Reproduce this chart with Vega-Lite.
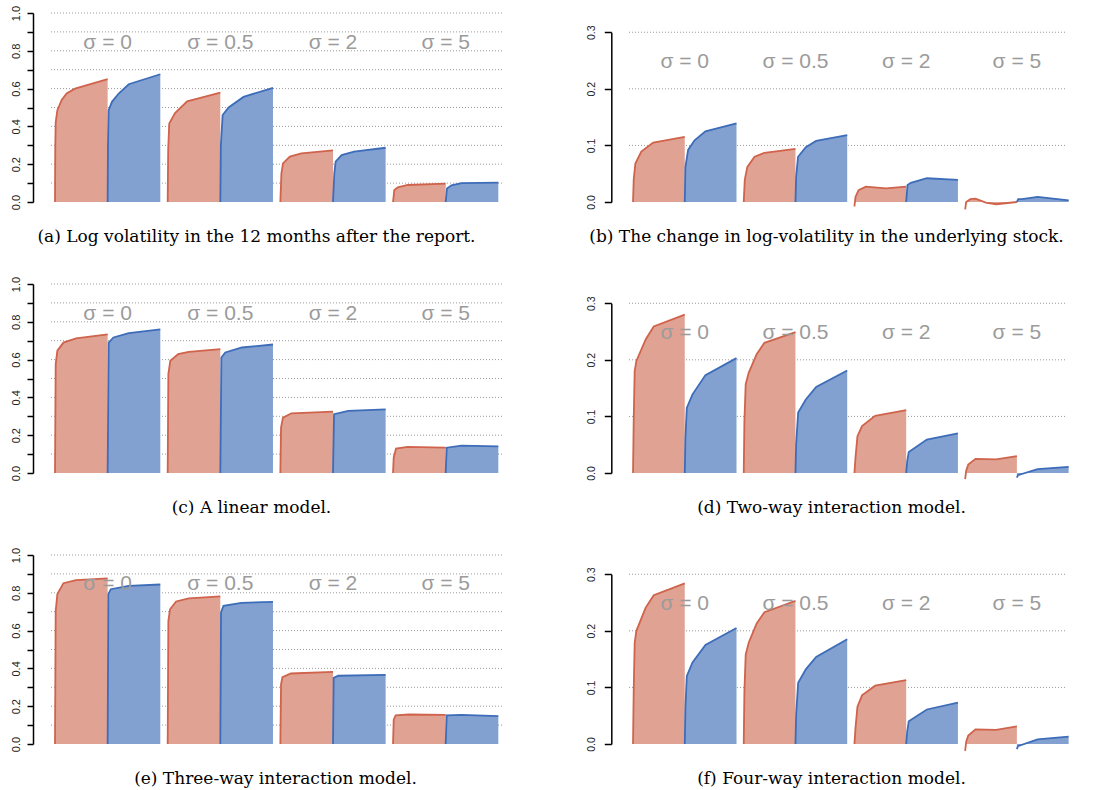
{
  "$schema": "https://vega.github.io/schema/vega-lite/v6.json",
  "background": "white",
  "padding": {"left": 10, "top": 5, "right": 5, "bottom": 5},
  "config": {
    "view": {"stroke": null},
    "font": "Liberation Sans",
    "axisY": {
      "labelAngle": -90, "labelAlign": "center", "labelBaseline": "bottom",
      "labelFont": "Liberation Sans", "labelColor": "#222"
    },
    "axisX": {
      "domain": false, "ticks": false, "labels": false, "grid": false,
      "titleFont": "DejaVu Serif", "titleFontSize": 17, "titleFontWeight": "normal",
      "titleColor": "#000", "titleY": 34, "titleBaseline": "middle", "titleAlign": "center"
    }
  },
  "datasets": {
    "gridL": [{"v":0.1},{"v":0.2},{"v":0.3},{"v":0.4},{"v":0.5},{"v":0.6},{"v":0.7},{"v":0.8},{"v":0.9},{"v":1.0}],
    "gridR": [{"v":0.1},{"v":0.2},{"v":0.3}],
    "curves": [
      {"p":"a","s":"0","c":"r","x":0,"y":0},{"p":"a","s":"0","c":"r","x":0.005,"y":0.29},{"p":"a","s":"0","c":"r","x":0.013,"y":0.42},{"p":"a","s":"0","c":"r","x":0.045,"y":0.486},{"p":"a","s":"0","c":"r","x":0.127,"y":0.54},{"p":"a","s":"0","c":"r","x":0.22,"y":0.574},{"p":"a","s":"0","c":"r","x":0.38,"y":0.6},{"p":"a","s":"0","c":"r","x":1,"y":0.65},
      {"p":"a","s":"0","c":"b","x":1,"y":0},{"p":"a","s":"0","c":"b","x":1.006,"y":0.3},{"p":"a","s":"0","c":"b","x":1.019,"y":0.486},{"p":"a","s":"0","c":"b","x":1.082,"y":0.53},{"p":"a","s":"0","c":"b","x":1.21,"y":0.574},{"p":"a","s":"0","c":"b","x":1.4,"y":0.623},{"p":"a","s":"0","c":"b","x":2,"y":0.676},
      {"p":"a","s":"0.5","c":"r","x":2.14,"y":0},{"p":"a","s":"0.5","c":"r","x":2.15,"y":0.28},{"p":"a","s":"0.5","c":"r","x":2.17,"y":0.415},{"p":"a","s":"0.5","c":"r","x":2.28,"y":0.47},{"p":"a","s":"0.5","c":"r","x":2.51,"y":0.533},{"p":"a","s":"0.5","c":"r","x":3.14,"y":0.579},
      {"p":"a","s":"0.5","c":"b","x":3.14,"y":0},{"p":"a","s":"0.5","c":"b","x":3.15,"y":0.3},{"p":"a","s":"0.5","c":"b","x":3.184,"y":0.46},{"p":"a","s":"0.5","c":"b","x":3.297,"y":0.5},{"p":"a","s":"0.5","c":"b","x":3.58,"y":0.556},{"p":"a","s":"0.5","c":"b","x":4.14,"y":0.604},
      {"p":"a","s":"2","c":"r","x":4.28,"y":0},{"p":"a","s":"2","c":"r","x":4.3,"y":0.15},{"p":"a","s":"2","c":"r","x":4.33,"y":0.204},{"p":"a","s":"2","c":"r","x":4.46,"y":0.24},{"p":"a","s":"2","c":"r","x":4.68,"y":0.257},{"p":"a","s":"2","c":"r","x":5.28,"y":0.273},
      {"p":"a","s":"2","c":"b","x":5.28,"y":0},{"p":"a","s":"2","c":"b","x":5.305,"y":0.15},{"p":"a","s":"2","c":"b","x":5.33,"y":0.213},{"p":"a","s":"2","c":"b","x":5.444,"y":0.248},{"p":"a","s":"2","c":"b","x":5.68,"y":0.266},{"p":"a","s":"2","c":"b","x":6.28,"y":0.287},
      {"p":"a","s":"5","c":"r","x":6.42,"y":0},{"p":"a","s":"5","c":"r","x":6.445,"y":0.063},{"p":"a","s":"5","c":"r","x":6.51,"y":0.077},{"p":"a","s":"5","c":"r","x":6.7,"y":0.09},{"p":"a","s":"5","c":"r","x":7.42,"y":0.097},
      {"p":"a","s":"5","c":"b","x":7.42,"y":0},{"p":"a","s":"5","c":"b","x":7.445,"y":0.072},{"p":"a","s":"5","c":"b","x":7.53,"y":0.088},{"p":"a","s":"5","c":"b","x":7.72,"y":0.1},{"p":"a","s":"5","c":"b","x":8.42,"y":0.102},

      {"p":"b","s":"0","c":"r","x":0,"y":0},{"p":"b","s":"0","c":"r","x":0.013,"y":0.039},{"p":"b","s":"0","c":"r","x":0.045,"y":0.068},{"p":"b","s":"0","c":"r","x":0.16,"y":0.089},{"p":"b","s":"0","c":"r","x":0.39,"y":0.105},{"p":"b","s":"0","c":"r","x":1,"y":0.115},
      {"p":"b","s":"0","c":"b","x":1,"y":0},{"p":"b","s":"0","c":"b","x":1.013,"y":0.062},{"p":"b","s":"0","c":"b","x":1.065,"y":0.092},{"p":"b","s":"0","c":"b","x":1.19,"y":0.109},{"p":"b","s":"0","c":"b","x":1.4,"y":0.125},{"p":"b","s":"0","c":"b","x":2,"y":0.139},
      {"p":"b","s":"0.5","c":"r","x":2.14,"y":0},{"p":"b","s":"0.5","c":"r","x":2.16,"y":0.039},{"p":"b","s":"0.5","c":"r","x":2.21,"y":0.062},{"p":"b","s":"0.5","c":"r","x":2.35,"y":0.08},{"p":"b","s":"0.5","c":"r","x":2.54,"y":0.087},{"p":"b","s":"0.5","c":"r","x":3.14,"y":0.094},
      {"p":"b","s":"0.5","c":"b","x":3.14,"y":0},{"p":"b","s":"0.5","c":"b","x":3.153,"y":0.045},{"p":"b","s":"0.5","c":"b","x":3.19,"y":0.08},{"p":"b","s":"0.5","c":"b","x":3.34,"y":0.097},{"p":"b","s":"0.5","c":"b","x":3.54,"y":0.108},{"p":"b","s":"0.5","c":"b","x":4.14,"y":0.118},
      {"p":"b","s":"2","c":"r","x":4.28,"y":-0.008},{"p":"b","s":"2","c":"r","x":4.3,"y":0.009},{"p":"b","s":"2","c":"r","x":4.36,"y":0.021},{"p":"b","s":"2","c":"r","x":4.5,"y":0.027},{"p":"b","s":"2","c":"r","x":4.89,"y":0.024},{"p":"b","s":"2","c":"r","x":5.28,"y":0.027},
      {"p":"b","s":"2","c":"b","x":5.28,"y":0},{"p":"b","s":"2","c":"b","x":5.306,"y":0.03},{"p":"b","s":"2","c":"b","x":5.37,"y":0.034},{"p":"b","s":"2","c":"b","x":5.68,"y":0.042},{"p":"b","s":"2","c":"b","x":6.28,"y":0.039},
      {"p":"b","s":"5","c":"r","x":6.42,"y":-0.013},{"p":"b","s":"5","c":"r","x":6.44,"y":0},{"p":"b","s":"5","c":"r","x":6.52,"y":0.005},{"p":"b","s":"5","c":"r","x":6.62,"y":0.006},{"p":"b","s":"5","c":"r","x":6.82,"y":-0.001},{"p":"b","s":"5","c":"r","x":7.02,"y":-0.004},{"p":"b","s":"5","c":"r","x":7.42,"y":0},
      {"p":"b","s":"5","c":"b","x":7.42,"y":0},{"p":"b","s":"5","c":"b","x":7.446,"y":0.005},{"p":"b","s":"5","c":"b","x":7.52,"y":0.005},{"p":"b","s":"5","c":"b","x":7.82,"y":0.009},{"p":"b","s":"5","c":"b","x":8.42,"y":0.003},

      {"p":"c","s":"0","c":"r","x":0,"y":0},{"p":"c","s":"0","c":"r","x":0.013,"y":0.576},{"p":"c","s":"0","c":"r","x":0.045,"y":0.647},{"p":"c","s":"0","c":"r","x":0.16,"y":0.69},{"p":"c","s":"0","c":"r","x":0.4,"y":0.712},{"p":"c","s":"0","c":"r","x":1,"y":0.733},
      {"p":"c","s":"0","c":"b","x":1,"y":0},{"p":"c","s":"0","c":"b","x":1.02,"y":0.69},{"p":"c","s":"0","c":"b","x":1.11,"y":0.717},{"p":"c","s":"0","c":"b","x":1.4,"y":0.74},{"p":"c","s":"0","c":"b","x":2,"y":0.76},
      {"p":"c","s":"0.5","c":"r","x":2.14,"y":0},{"p":"c","s":"0.5","c":"r","x":2.153,"y":0.523},{"p":"c","s":"0.5","c":"r","x":2.19,"y":0.594},{"p":"c","s":"0.5","c":"r","x":2.34,"y":0.629},{"p":"c","s":"0.5","c":"r","x":2.54,"y":0.641},{"p":"c","s":"0.5","c":"r","x":3.14,"y":0.655},
      {"p":"c","s":"0.5","c":"b","x":3.14,"y":0},{"p":"c","s":"0.5","c":"b","x":3.16,"y":0.611},{"p":"c","s":"0.5","c":"b","x":3.234,"y":0.638},{"p":"c","s":"0.5","c":"b","x":3.55,"y":0.664},{"p":"c","s":"0.5","c":"b","x":4.14,"y":0.68},
      {"p":"c","s":"2","c":"r","x":4.28,"y":0},{"p":"c","s":"2","c":"r","x":4.293,"y":0.24},{"p":"c","s":"2","c":"r","x":4.33,"y":0.293},{"p":"c","s":"2","c":"r","x":4.49,"y":0.316},{"p":"c","s":"2","c":"r","x":5.28,"y":0.325},
      {"p":"c","s":"2","c":"b","x":5.28,"y":0},{"p":"c","s":"2","c":"b","x":5.3,"y":0.311},{"p":"c","s":"2","c":"b","x":5.57,"y":0.329},{"p":"c","s":"2","c":"b","x":6.28,"y":0.337},
      {"p":"c","s":"5","c":"r","x":6.42,"y":0},{"p":"c","s":"5","c":"r","x":6.433,"y":0.081},{"p":"c","s":"5","c":"r","x":6.477,"y":0.129},{"p":"c","s":"5","c":"r","x":6.7,"y":0.138},{"p":"c","s":"5","c":"r","x":7.42,"y":0.134},
      {"p":"c","s":"5","c":"b","x":7.42,"y":0},{"p":"c","s":"5","c":"b","x":7.44,"y":0.134},{"p":"c","s":"5","c":"b","x":7.72,"y":0.145},{"p":"c","s":"5","c":"b","x":8.42,"y":0.141},

      {"p":"d","s":"0","c":"r","x":0,"y":0},{"p":"d","s":"0","c":"r","x":0.013,"y":0.092},{"p":"d","s":"0","c":"r","x":0.032,"y":0.18},{"p":"d","s":"0","c":"r","x":0.065,"y":0.198},{"p":"d","s":"0","c":"r","x":0.245,"y":0.236},{"p":"d","s":"0","c":"r","x":0.4,"y":0.259},{"p":"d","s":"0","c":"r","x":1,"y":0.28},
      {"p":"d","s":"0","c":"b","x":1,"y":0},{"p":"d","s":"0","c":"b","x":1.013,"y":0.062},{"p":"d","s":"0","c":"b","x":1.039,"y":0.115},{"p":"d","s":"0","c":"b","x":1.15,"y":0.139},{"p":"d","s":"0","c":"b","x":1.4,"y":0.173},{"p":"d","s":"0","c":"b","x":2,"y":0.203},
      {"p":"d","s":"0.5","c":"r","x":2.14,"y":0},{"p":"d","s":"0.5","c":"r","x":2.153,"y":0.092},{"p":"d","s":"0.5","c":"r","x":2.178,"y":0.157},{"p":"d","s":"0.5","c":"r","x":2.236,"y":0.177},{"p":"d","s":"0.5","c":"r","x":2.39,"y":0.21},{"p":"d","s":"0.5","c":"r","x":2.54,"y":0.23},{"p":"d","s":"0.5","c":"r","x":3.14,"y":0.249},
      {"p":"d","s":"0.5","c":"b","x":3.14,"y":0},{"p":"d","s":"0.5","c":"b","x":3.153,"y":0.051},{"p":"d","s":"0.5","c":"b","x":3.192,"y":0.107},{"p":"d","s":"0.5","c":"b","x":3.34,"y":0.13},{"p":"d","s":"0.5","c":"b","x":3.54,"y":0.152},{"p":"d","s":"0.5","c":"b","x":4.14,"y":0.181},
      {"p":"d","s":"2","c":"r","x":4.28,"y":0},{"p":"d","s":"2","c":"r","x":4.3,"y":0.027},{"p":"d","s":"2","c":"r","x":4.338,"y":0.065},{"p":"d","s":"2","c":"r","x":4.427,"y":0.083},{"p":"d","s":"2","c":"r","x":4.68,"y":0.101},{"p":"d","s":"2","c":"r","x":5.28,"y":0.111},
      {"p":"d","s":"2","c":"b","x":5.28,"y":0},{"p":"d","s":"2","c":"b","x":5.3,"y":0.021},{"p":"d","s":"2","c":"b","x":5.33,"y":0.037},{"p":"d","s":"2","c":"b","x":5.68,"y":0.059},{"p":"d","s":"2","c":"b","x":6.28,"y":0.07},
      {"p":"d","s":"5","c":"r","x":6.42,"y":-0.011},{"p":"d","s":"5","c":"r","x":6.44,"y":0.004},{"p":"d","s":"5","c":"r","x":6.48,"y":0.015},{"p":"d","s":"5","c":"r","x":6.62,"y":0.025},{"p":"d","s":"5","c":"r","x":7.02,"y":0.024},{"p":"d","s":"5","c":"r","x":7.42,"y":0.03},
      {"p":"d","s":"5","c":"b","x":7.42,"y":-0.008},{"p":"d","s":"5","c":"b","x":7.44,"y":-0.004},{"p":"d","s":"5","c":"b","x":7.82,"y":0.007},{"p":"d","s":"5","c":"b","x":8.42,"y":0.011},

      {"p":"e","s":"0","c":"r","x":0,"y":0},{"p":"e","s":"0","c":"r","x":0.013,"y":0.704},{"p":"e","s":"0","c":"r","x":0.045,"y":0.793},{"p":"e","s":"0","c":"r","x":0.16,"y":0.851},{"p":"e","s":"0","c":"r","x":0.4,"y":0.867},{"p":"e","s":"0","c":"r","x":1,"y":0.876},
      {"p":"e","s":"0","c":"b","x":1,"y":0},{"p":"e","s":"0","c":"b","x":1.013,"y":0.793},{"p":"e","s":"0","c":"b","x":1.06,"y":0.819},{"p":"e","s":"0","c":"b","x":1.4,"y":0.837},{"p":"e","s":"0","c":"b","x":2,"y":0.844},
      {"p":"e","s":"0.5","c":"r","x":2.14,"y":0},{"p":"e","s":"0.5","c":"r","x":2.153,"y":0.651},{"p":"e","s":"0.5","c":"r","x":2.185,"y":0.713},{"p":"e","s":"0.5","c":"r","x":2.3,"y":0.754},{"p":"e","s":"0.5","c":"r","x":2.54,"y":0.77},{"p":"e","s":"0.5","c":"r","x":3.14,"y":0.781},
      {"p":"e","s":"0.5","c":"b","x":3.14,"y":0},{"p":"e","s":"0.5","c":"b","x":3.153,"y":0.696},{"p":"e","s":"0.5","c":"b","x":3.2,"y":0.731},{"p":"e","s":"0.5","c":"b","x":3.54,"y":0.747},{"p":"e","s":"0.5","c":"b","x":4.14,"y":0.752},
      {"p":"e","s":"2","c":"r","x":4.28,"y":0},{"p":"e","s":"2","c":"r","x":4.293,"y":0.315},{"p":"e","s":"2","c":"r","x":4.32,"y":0.354},{"p":"e","s":"2","c":"r","x":4.48,"y":0.373},{"p":"e","s":"2","c":"r","x":5.28,"y":0.382},
      {"p":"e","s":"2","c":"b","x":5.28,"y":0},{"p":"e","s":"2","c":"b","x":5.293,"y":0.35},{"p":"e","s":"2","c":"b","x":5.38,"y":0.361},{"p":"e","s":"2","c":"b","x":6.28,"y":0.366},
      {"p":"e","s":"5","c":"r","x":6.42,"y":0},{"p":"e","s":"5","c":"r","x":6.433,"y":0.129},{"p":"e","s":"5","c":"r","x":6.47,"y":0.152},{"p":"e","s":"5","c":"r","x":6.72,"y":0.156},{"p":"e","s":"5","c":"r","x":7.42,"y":0.154},
      {"p":"e","s":"5","c":"b","x":7.42,"y":0},{"p":"e","s":"5","c":"b","x":7.44,"y":0.152},{"p":"e","s":"5","c":"b","x":7.72,"y":0.154},{"p":"e","s":"5","c":"b","x":8.42,"y":0.147},

      {"p":"f","s":"0","c":"r","x":0,"y":0},{"p":"f","s":"0","c":"r","x":0.013,"y":0.093},{"p":"f","s":"0","c":"r","x":0.032,"y":0.179},{"p":"f","s":"0","c":"r","x":0.065,"y":0.2},{"p":"f","s":"0","c":"r","x":0.245,"y":0.241},{"p":"f","s":"0","c":"r","x":0.4,"y":0.263},{"p":"f","s":"0","c":"r","x":1,"y":0.284},
      {"p":"f","s":"0","c":"b","x":1,"y":0},{"p":"f","s":"0","c":"b","x":1.013,"y":0.064},{"p":"f","s":"0","c":"b","x":1.039,"y":0.12},{"p":"f","s":"0","c":"b","x":1.15,"y":0.144},{"p":"f","s":"0","c":"b","x":1.4,"y":0.175},{"p":"f","s":"0","c":"b","x":2,"y":0.205},
      {"p":"f","s":"0.5","c":"r","x":2.14,"y":0},{"p":"f","s":"0.5","c":"r","x":2.153,"y":0.093},{"p":"f","s":"0.5","c":"r","x":2.178,"y":0.158},{"p":"f","s":"0.5","c":"r","x":2.236,"y":0.179},{"p":"f","s":"0.5","c":"r","x":2.39,"y":0.213},{"p":"f","s":"0.5","c":"r","x":2.54,"y":0.233},{"p":"f","s":"0.5","c":"r","x":3.14,"y":0.253},
      {"p":"f","s":"0.5","c":"b","x":3.14,"y":0},{"p":"f","s":"0.5","c":"b","x":3.153,"y":0.052},{"p":"f","s":"0.5","c":"b","x":3.192,"y":0.108},{"p":"f","s":"0.5","c":"b","x":3.34,"y":0.132},{"p":"f","s":"0.5","c":"b","x":3.54,"y":0.154},{"p":"f","s":"0.5","c":"b","x":4.14,"y":0.185},
      {"p":"f","s":"2","c":"r","x":4.28,"y":0},{"p":"f","s":"2","c":"r","x":4.3,"y":0.028},{"p":"f","s":"2","c":"r","x":4.338,"y":0.066},{"p":"f","s":"2","c":"r","x":4.427,"y":0.086},{"p":"f","s":"2","c":"r","x":4.68,"y":0.103},{"p":"f","s":"2","c":"r","x":5.28,"y":0.113},
      {"p":"f","s":"2","c":"b","x":5.28,"y":0},{"p":"f","s":"2","c":"b","x":5.3,"y":0.022},{"p":"f","s":"2","c":"b","x":5.33,"y":0.04},{"p":"f","s":"2","c":"b","x":5.68,"y":0.061},{"p":"f","s":"2","c":"b","x":6.28,"y":0.073},
      {"p":"f","s":"5","c":"r","x":6.42,"y":-0.012},{"p":"f","s":"5","c":"r","x":6.44,"y":0.004},{"p":"f","s":"5","c":"r","x":6.48,"y":0.015},{"p":"f","s":"5","c":"r","x":6.62,"y":0.026},{"p":"f","s":"5","c":"r","x":7.02,"y":0.025},{"p":"f","s":"5","c":"r","x":7.42,"y":0.031},
      {"p":"f","s":"5","c":"b","x":7.42,"y":-0.009},{"p":"f","s":"5","c":"b","x":7.44,"y":-0.004},{"p":"f","s":"5","c":"b","x":7.82,"y":0.008},{"p":"f","s":"5","c":"b","x":8.42,"y":0.013}
    ],
    "labels": [
      {"p":"a","x":1,"y":0.84,"label":"σ = 0"},{"p":"a","x":3.14,"y":0.84,"label":"σ = 0.5"},{"p":"a","x":5.28,"y":0.84,"label":"σ = 2"},{"p":"a","x":7.42,"y":0.84,"label":"σ = 5"},
      {"p":"b","x":1,"y":0.247,"label":"σ = 0"},{"p":"b","x":3.14,"y":0.247,"label":"σ = 0.5"},{"p":"b","x":5.28,"y":0.247,"label":"σ = 2"},{"p":"b","x":7.42,"y":0.247,"label":"σ = 5"},
      {"p":"c","x":1,"y":0.84,"label":"σ = 0"},{"p":"c","x":3.14,"y":0.84,"label":"σ = 0.5"},{"p":"c","x":5.28,"y":0.84,"label":"σ = 2"},{"p":"c","x":7.42,"y":0.84,"label":"σ = 5"},
      {"p":"d","x":1,"y":0.247,"label":"σ = 0"},{"p":"d","x":3.14,"y":0.247,"label":"σ = 0.5"},{"p":"d","x":5.28,"y":0.247,"label":"σ = 2"},{"p":"d","x":7.42,"y":0.247,"label":"σ = 5"},
      {"p":"e","x":1,"y":0.845,"label":"σ = 0"},{"p":"e","x":3.14,"y":0.845,"label":"σ = 0.5"},{"p":"e","x":5.28,"y":0.845,"label":"σ = 2"},{"p":"e","x":7.42,"y":0.845,"label":"σ = 5"},
      {"p":"f","x":1,"y":0.247,"label":"σ = 0"},{"p":"f","x":3.14,"y":0.247,"label":"σ = 0.5"},{"p":"f","x":5.28,"y":0.247,"label":"σ = 2"},{"p":"f","x":7.42,"y":0.247,"label":"σ = 5"}
    ]
  },
  "columns": 2,
  "bounds": "flush",
  "spacing": {"row": 82, "column": 126},
  "concat": [
    {
      "width": 452, "height": 189,
      "encoding": {
        "y": {"field": "y", "type": "quantitative", "scale": {"domain": [0, 1], "nice": false},
              "axis": {"title": null, "offset": 17, "tickSize": 6, "labelPadding": 6, "labelFontSize": 11, "zindex": 1,
                       "grid": false, "domain": true, "ticks": true, "domainColor": "#000000", "tickColor": "#000000", "domainWidth": 1.5, "tickWidth": 1.5, "domainOpacity": 1, "tickOpacity": 1,
                       "values": [0, 0.1, 0.2, 0.3, 0.4, 0.5, 0.6, 0.7, 0.8, 0.9, 1.0],
                       "labelExpr": "round(datum.value*10)%2==0 ? format(datum.value, '.1f') : ''"}}
      },
      "layer": [
        {"data": {"name": "gridL"}, "mark": {"type": "rule", "strokeDash": [1, 2], "color": "#999999", "strokeWidth": 1}, "encoding": {"y": {"field": "v", "type": "quantitative"}}},
        {"data": {"name": "curves"}, "transform": [{"filter": "datum.p == 'a'"}], "mark": {"type": "area"},
         "encoding": {"x": {"field": "x", "type": "quantitative", "scale": {"domain": [-0.095, 8.49], "nice": false, "zero": false}, "axis": {"title": "(a) Log volatility in the 12 months after the report.", "titleX": 206}},
                      "y": {"field": "y", "type": "quantitative", "stack": null}, "fill": {"field": "c", "type": "nominal", "scale": {"domain": ["r", "b"], "range": ["#e0a293", "#82a1d0"]}, "legend": null}, "detail": {"field": "s"}}},
        {"data": {"name": "curves"}, "transform": [{"filter": "datum.p == 'a'"}], "mark": {"type": "line", "strokeWidth": 1.8},
         "encoding": {"x": {"field": "x", "type": "quantitative", "scale": {"domain": [-0.095, 8.49], "nice": false, "zero": false}},
                      "stroke": {"field": "c", "type": "nominal", "scale": {"domain": ["r", "b"], "range": ["#cf634b", "#3d6cb8"]}, "legend": null}, "detail": {"field": "s"}}},
        {"data": {"name": "labels"}, "transform": [{"filter": "datum.p == 'a'"}], "mark": {"type": "text", "font": "Liberation Sans", "fontSize": 21, "color": "#9b9b9b", "baseline": "middle"},
         "encoding": {"x": {"field": "x", "type": "quantitative", "scale": {"domain": [-0.095, 8.49], "nice": false, "zero": false}}, "text": {"field": "label"}}}
      ]
    },
    {
      "width": 437, "height": 189,
      "encoding": {
        "y": {"field": "y", "type": "quantitative", "scale": {"domain": [0, 0.334], "nice": false},
              "axis": {"title": null, "offset": 16.7, "tickSize": 7, "labelPadding": 8, "labelFontSize": 10.5, "zindex": 1,
                       "grid": false, "domain": true, "ticks": true, "domainColor": "#000000", "tickColor": "#000000", "domainWidth": 1.5, "tickWidth": 1.5, "domainOpacity": 1, "tickOpacity": 1, "domainDash": [169.8, 1000],
                       "values": [0, 0.1, 0.2, 0.3], "format": ".1f"}}
      },
      "layer": [
        {"data": {"name": "gridR"}, "mark": {"type": "rule", "strokeDash": [1, 2], "color": "#999999", "strokeWidth": 1}, "encoding": {"y": {"field": "v", "type": "quantitative"}}},
        {"data": {"name": "curves"}, "transform": [{"filter": "datum.p == 'b'"}], "mark": {"type": "area"},
         "encoding": {"x": {"field": "x", "type": "quantitative", "scale": {"domain": [-0.097, 8.35], "nice": false, "zero": false}, "axis": {"title": "(b) The change in log-volatility in the underlying stock.", "titleX": 198}},
                      "y": {"field": "y", "type": "quantitative", "stack": null}, "fill": {"field": "c", "type": "nominal", "scale": {"domain": ["r", "b"], "range": ["#e0a293", "#82a1d0"]}, "legend": null}, "detail": {"field": "s"}}},
        {"data": {"name": "curves"}, "transform": [{"filter": "datum.p == 'b'"}], "mark": {"type": "line", "strokeWidth": 1.8},
         "encoding": {"x": {"field": "x", "type": "quantitative", "scale": {"domain": [-0.097, 8.35], "nice": false, "zero": false}},
                      "stroke": {"field": "c", "type": "nominal", "scale": {"domain": ["r", "b"], "range": ["#cf634b", "#3d6cb8"]}, "legend": null}, "detail": {"field": "s"}}},
        {"data": {"name": "labels"}, "transform": [{"filter": "datum.p == 'b'"}], "mark": {"type": "text", "font": "Liberation Sans", "fontSize": 21, "color": "#9b9b9b", "baseline": "middle"},
         "encoding": {"x": {"field": "x", "type": "quantitative", "scale": {"domain": [-0.097, 8.35], "nice": false, "zero": false}}, "text": {"field": "label"}}}
      ]
    },
    {
      "width": 452, "height": 189,
      "encoding": {
        "y": {"field": "y", "type": "quantitative", "scale": {"domain": [0, 1], "nice": false},
              "axis": {"title": null, "offset": 17, "tickSize": 6, "labelPadding": 6, "labelFontSize": 11, "zindex": 1,
                       "grid": false, "domain": true, "ticks": true, "domainColor": "#000000", "tickColor": "#000000", "domainWidth": 1.5, "tickWidth": 1.5, "domainOpacity": 1, "tickOpacity": 1,
                       "values": [0, 0.1, 0.2, 0.3, 0.4, 0.5, 0.6, 0.7, 0.8, 0.9, 1.0],
                       "labelExpr": "round(datum.value*10)%2==0 ? format(datum.value, '.1f') : ''"}}
      },
      "layer": [
        {"data": {"name": "gridL"}, "mark": {"type": "rule", "strokeDash": [1, 2], "color": "#999999", "strokeWidth": 1}, "encoding": {"y": {"field": "v", "type": "quantitative"}}},
        {"data": {"name": "curves"}, "transform": [{"filter": "datum.p == 'c'"}], "mark": {"type": "area"},
         "encoding": {"x": {"field": "x", "type": "quantitative", "scale": {"domain": [-0.095, 8.49], "nice": false, "zero": false}, "axis": {"title": "(c) A linear model.", "titleX": 201}},
                      "y": {"field": "y", "type": "quantitative", "stack": null}, "fill": {"field": "c", "type": "nominal", "scale": {"domain": ["r", "b"], "range": ["#e0a293", "#82a1d0"]}, "legend": null}, "detail": {"field": "s"}}},
        {"data": {"name": "curves"}, "transform": [{"filter": "datum.p == 'c'"}], "mark": {"type": "line", "strokeWidth": 1.8},
         "encoding": {"x": {"field": "x", "type": "quantitative", "scale": {"domain": [-0.095, 8.49], "nice": false, "zero": false}},
                      "stroke": {"field": "c", "type": "nominal", "scale": {"domain": ["r", "b"], "range": ["#cf634b", "#3d6cb8"]}, "legend": null}, "detail": {"field": "s"}}},
        {"data": {"name": "labels"}, "transform": [{"filter": "datum.p == 'c'"}], "mark": {"type": "text", "font": "Liberation Sans", "fontSize": 21, "color": "#9b9b9b", "baseline": "middle"},
         "encoding": {"x": {"field": "x", "type": "quantitative", "scale": {"domain": [-0.095, 8.49], "nice": false, "zero": false}}, "text": {"field": "label"}}}
      ]
    },
    {
      "width": 437, "height": 189,
      "encoding": {
        "y": {"field": "y", "type": "quantitative", "scale": {"domain": [0, 0.334], "nice": false},
              "axis": {"title": null, "offset": 16.7, "tickSize": 7, "labelPadding": 8, "labelFontSize": 10.5, "zindex": 1,
                       "grid": false, "domain": true, "ticks": true, "domainColor": "#000000", "tickColor": "#000000", "domainWidth": 1.5, "tickWidth": 1.5, "domainOpacity": 1, "tickOpacity": 1, "domainDash": [169.8, 1000],
                       "values": [0, 0.1, 0.2, 0.3], "format": ".1f"}}
      },
      "layer": [
        {"data": {"name": "gridR"}, "mark": {"type": "rule", "strokeDash": [1, 2], "color": "#999999", "strokeWidth": 1}, "encoding": {"y": {"field": "v", "type": "quantitative"}}},
        {"data": {"name": "curves"}, "transform": [{"filter": "datum.p == 'd'"}], "mark": {"type": "area"},
         "encoding": {"x": {"field": "x", "type": "quantitative", "scale": {"domain": [-0.097, 8.35], "nice": false, "zero": false}, "axis": {"title": "(d) Two-way interaction model.", "titleX": 203}},
                      "y": {"field": "y", "type": "quantitative", "stack": null}, "fill": {"field": "c", "type": "nominal", "scale": {"domain": ["r", "b"], "range": ["#e0a293", "#82a1d0"]}, "legend": null}, "detail": {"field": "s"}}},
        {"data": {"name": "curves"}, "transform": [{"filter": "datum.p == 'd'"}], "mark": {"type": "line", "strokeWidth": 1.8},
         "encoding": {"x": {"field": "x", "type": "quantitative", "scale": {"domain": [-0.097, 8.35], "nice": false, "zero": false}},
                      "stroke": {"field": "c", "type": "nominal", "scale": {"domain": ["r", "b"], "range": ["#cf634b", "#3d6cb8"]}, "legend": null}, "detail": {"field": "s"}}},
        {"data": {"name": "labels"}, "transform": [{"filter": "datum.p == 'd'"}], "mark": {"type": "text", "font": "Liberation Sans", "fontSize": 21, "color": "#9b9b9b", "baseline": "middle"},
         "encoding": {"x": {"field": "x", "type": "quantitative", "scale": {"domain": [-0.097, 8.35], "nice": false, "zero": false}}, "text": {"field": "label"}}}
      ]
    },
    {
      "width": 452, "height": 189,
      "encoding": {
        "y": {"field": "y", "type": "quantitative", "scale": {"domain": [0, 1], "nice": false},
              "axis": {"title": null, "offset": 17, "tickSize": 6, "labelPadding": 6, "labelFontSize": 11, "zindex": 1,
                       "grid": false, "domain": true, "ticks": true, "domainColor": "#000000", "tickColor": "#000000", "domainWidth": 1.5, "tickWidth": 1.5, "domainOpacity": 1, "tickOpacity": 1,
                       "values": [0, 0.1, 0.2, 0.3, 0.4, 0.5, 0.6, 0.7, 0.8, 0.9, 1.0],
                       "labelExpr": "round(datum.value*10)%2==0 ? format(datum.value, '.1f') : ''"}}
      },
      "layer": [
        {"data": {"name": "gridL"}, "mark": {"type": "rule", "strokeDash": [1, 2], "color": "#999999", "strokeWidth": 1}, "encoding": {"y": {"field": "v", "type": "quantitative"}}},
        {"data": {"name": "curves"}, "transform": [{"filter": "datum.p == 'e'"}], "mark": {"type": "area"},
         "encoding": {"x": {"field": "x", "type": "quantitative", "scale": {"domain": [-0.095, 8.49], "nice": false, "zero": false}, "axis": {"title": "(e) Three-way interaction model.", "titleX": 225}},
                      "y": {"field": "y", "type": "quantitative", "stack": null}, "fill": {"field": "c", "type": "nominal", "scale": {"domain": ["r", "b"], "range": ["#e0a293", "#82a1d0"]}, "legend": null}, "detail": {"field": "s"}}},
        {"data": {"name": "curves"}, "transform": [{"filter": "datum.p == 'e'"}], "mark": {"type": "line", "strokeWidth": 1.8},
         "encoding": {"x": {"field": "x", "type": "quantitative", "scale": {"domain": [-0.095, 8.49], "nice": false, "zero": false}},
                      "stroke": {"field": "c", "type": "nominal", "scale": {"domain": ["r", "b"], "range": ["#cf634b", "#3d6cb8"]}, "legend": null}, "detail": {"field": "s"}}},
        {"data": {"name": "labels"}, "transform": [{"filter": "datum.p == 'e'"}], "mark": {"type": "text", "font": "Liberation Sans", "fontSize": 21, "color": "#9b9b9b", "baseline": "middle"},
         "encoding": {"x": {"field": "x", "type": "quantitative", "scale": {"domain": [-0.095, 8.49], "nice": false, "zero": false}}, "text": {"field": "label"}}}
      ]
    },
    {
      "width": 437, "height": 189,
      "encoding": {
        "y": {"field": "y", "type": "quantitative", "scale": {"domain": [0, 0.334], "nice": false},
              "axis": {"title": null, "offset": 16.7, "tickSize": 7, "labelPadding": 8, "labelFontSize": 10.5, "zindex": 1,
                       "grid": false, "domain": true, "ticks": true, "domainColor": "#000000", "tickColor": "#000000", "domainWidth": 1.5, "tickWidth": 1.5, "domainOpacity": 1, "tickOpacity": 1, "domainDash": [169.8, 1000],
                       "values": [0, 0.1, 0.2, 0.3], "format": ".1f"}}
      },
      "layer": [
        {"data": {"name": "gridR"}, "mark": {"type": "rule", "strokeDash": [1, 2], "color": "#999999", "strokeWidth": 1}, "encoding": {"y": {"field": "v", "type": "quantitative"}}},
        {"data": {"name": "curves"}, "transform": [{"filter": "datum.p == 'f'"}], "mark": {"type": "area"},
         "encoding": {"x": {"field": "x", "type": "quantitative", "scale": {"domain": [-0.097, 8.35], "nice": false, "zero": false}, "axis": {"title": "(f) Four-way interaction model.", "titleX": 203}},
                      "y": {"field": "y", "type": "quantitative", "stack": null}, "fill": {"field": "c", "type": "nominal", "scale": {"domain": ["r", "b"], "range": ["#e0a293", "#82a1d0"]}, "legend": null}, "detail": {"field": "s"}}},
        {"data": {"name": "curves"}, "transform": [{"filter": "datum.p == 'f'"}], "mark": {"type": "line", "strokeWidth": 1.8},
         "encoding": {"x": {"field": "x", "type": "quantitative", "scale": {"domain": [-0.097, 8.35], "nice": false, "zero": false}},
                      "stroke": {"field": "c", "type": "nominal", "scale": {"domain": ["r", "b"], "range": ["#cf634b", "#3d6cb8"]}, "legend": null}, "detail": {"field": "s"}}},
        {"data": {"name": "labels"}, "transform": [{"filter": "datum.p == 'f'"}], "mark": {"type": "text", "font": "Liberation Sans", "fontSize": 21, "color": "#9b9b9b", "baseline": "middle"},
         "encoding": {"x": {"field": "x", "type": "quantitative", "scale": {"domain": [-0.097, 8.35], "nice": false, "zero": false}}, "text": {"field": "label"}}}
      ]
    }
  ]
}
